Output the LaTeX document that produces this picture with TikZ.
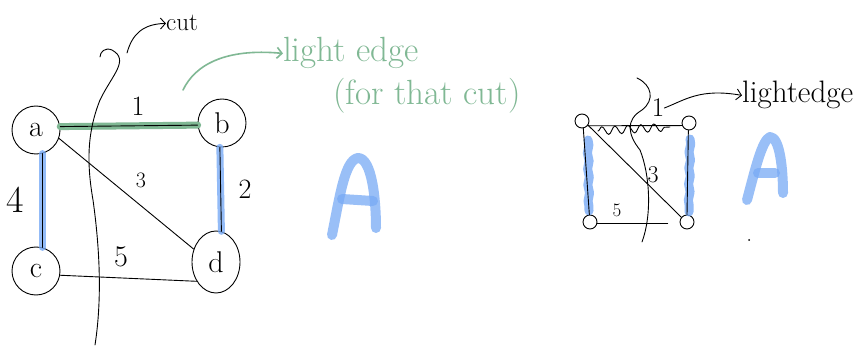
\documentclass[tikz,border=0pt]{standalone}
\usepackage{fontspec}
\usetikzlibrary{arrows.meta,shapes.geometric,decorations.pathmorphing}
\definecolor{lgreen}{RGB}{128,184,148}
\definecolor{lblue}{RGB}{120,170,245}
\begin{document}
\begin{tikzpicture}[x=1pt,y=-1pt,line cap=round,line join=round,
  vert/.style={draw,circle,line width=0.9pt,minimum size=48pt,inner sep=0pt,font=\fontsize{30}{30}\selectfont},
  svert/.style={draw,circle,line width=0.9pt,minimum size=14pt,inner sep=0pt},
  edge/.style={line width=0.9pt},
  band/.style={line width=7pt,lblue,opacity=0.8},
  gband/.style={line width=7pt,lgreen},
  bstroke/.style={line width=10pt,lblue,opacity=0.75},
  lab/.style={inner sep=0pt,font=\fontsize{28}{28}\selectfont},
  tipb/.style={-{Straight Barb[length=5pt,width=11pt]}},
  gtext/.style={inner sep=0pt,lgreen,font=\fontsize{35}{35}\selectfont},
  ktext/.style={inner sep=0pt,font=\fontsize{31}{31}\selectfont}
]
\useasboundingbox (0,0) rectangle (856,347);
\fill[white] (0,0) rectangle (856,347);

% ---------- left graph ----------
\node[vert] (a) at (36,130) {a};
\node[vert] (b) at (222,123) {b};
\node[vert] (c) at (36,271) {c};
\node[draw,ellipse,line width=0.9pt,minimum width=48pt,minimum height=62pt,inner sep=0pt,
      font=\fontsize{30}{30}\selectfont] (d) at (216,262) {d};

\draw[gband] (a.8) -- (b.185);
\draw[band] (a.-75) -- (c.75);
\draw[band] (b.-95) -- (d.80);

\draw[edge] (a.8) -- (b.185);
\draw[edge] (a.-75) -- (c.75);
\draw[edge] (b.-95) -- (d.80);
\draw[edge] (a.-20) -- (d.150);
\draw[edge] (c.-10) -- (d.-135);

\node[lab] (l1) at (138,106) {1};
\node[lab] (l2) at (245,189) {2};
\node[lab,font=\fontsize{22}{22}\selectfont] (l3) at (141,180) {3};
\node[lab,font=\fontsize{38}{38}\selectfont] (l4) at (15,200) {4};
\node[lab,font=\fontsize{30}{30}\selectfont] (l5) at (121,257) {5};

% cut curve
\draw[edge] (95,345) .. controls (102,300) and (100,250) .. (93,200)
  .. controls (86,160) and (88,130) .. (100,100)
  .. controls (112,75) and (130,60) .. (112,50)
  .. controls (105,47) and (100,52) .. (100,57);
\coordinate (cs) at (127,53);
\node[ktext,anchor=base west,font=\fontsize{25}{25}\selectfont] (cut) at (166,31) {cut};
\draw[edge,tipb] (cs) .. controls (132,35) and (142,24) .. (cut.west);

% green annotation
\node[gtext,anchor=base west] (le) at (283,62) {light edge};
\node[gtext,anchor=base west] (ftc) at (333,105) {(for that cut)};
\coordinate (gs) at (183,90);
\draw[lgreen,line width=1.6pt,tipb] (gs) .. controls (195,65) and (225,48) .. (le.west);

% blue A (left)
\draw[bstroke] (332,235) .. controls (340,195) and (345,160) .. (358,158)
  .. controls (372,158) and (376,200) .. (376,228);
\draw[bstroke] (342,199) -- (373,201);

% ---------- right graph ----------
\node[svert] (p) at (582,121) {};
\node[svert] (q) at (689,123) {};
\node[svert] (r) at (590,222) {};
\node[svert] (s) at (687,222) {};

\draw[band,line width=9pt,decorate,decoration={snake,amplitude=0.8pt,segment length=16pt}] (588,140) -- (589,211);
\draw[band,line width=9pt,decorate,decoration={snake,amplitude=0.8pt,segment length=16pt}] (690,139) -- (689,212);

\draw[edge] (p.-40) -- (q.-160);
\draw[edge] (p.-80) -- (r.95);
\draw[edge] (q.-95) -- (s.90);
\draw[edge] (p.-35) -- (s.140);
\draw[edge,shorten >=12pt] (r.-10) -- (s.190);

\draw[edge,decorate,decoration={snake,amplitude=4pt,segment length=13pt}] (598,131) -- (670,127);

\draw[edge] (642,242) .. controls (652,215) and (650,175) .. (640,150)
  .. controls (628,135) and (625,120) .. (642,110)
  .. controls (655,100) and (652,85) .. (637,78);

\node[lab,font=\fontsize{27}{27}\selectfont] (r1) at (658,108) {1};
\node[lab,font=\fontsize{24}{24}\selectfont] (r3) at (653,175) {3};
\node[lab,font=\fontsize{19}{19}\selectfont] (r5) at (617,210) {5};

\node[ktext,anchor=base west] (rle) at (742,103) {lightedge};
\draw[edge,tipb] (r1.east) .. controls (685,100) and (700,88) .. (rle.west);

% blue A (right)
\draw[bstroke] (747,200) .. controls (755,170) and (762,140) .. (770,137)
  .. controls (780,137) and (783,170) .. (783,193);
\draw[bstroke] (758,173) -- (775,173);

\fill (749,240) circle (1pt);
\end{tikzpicture}
\end{document}
